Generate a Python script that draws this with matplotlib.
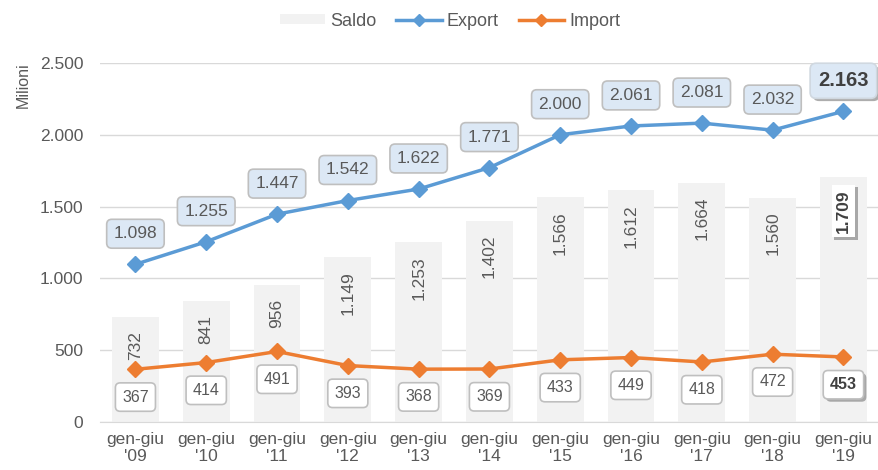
import matplotlib
matplotlib.use("Agg")
import matplotlib.pyplot as plt
import matplotlib.patheffects as pe
from matplotlib.lines import Line2D
from matplotlib.patches import Patch

categories = ["gen-giu\n'09", "gen-giu\n'10", "gen-giu\n'11", "gen-giu\n'12", "gen-giu\n'13",
              "gen-giu\n'14", "gen-giu\n'15", "gen-giu\n'16", "gen-giu\n'17", "gen-giu\n'18",
              "gen-giu\n'19"]
saldo = [732, 841, 956, 1149, 1253, 1402, 1566, 1612, 1664, 1560, 1709]
export = [1098, 1255, 1447, 1542, 1622, 1771, 2000, 2061, 2081, 2032, 2163]
imports = [367, 414, 491, 393, 368, 369, 433, 449, 418, 472, 453]
yticks = [0, 500, 1000, 1500, 2000, 2500]
ytick_labels = ["0", "500", "1.000", "1.500", "2.000", "2.500"]

def fmt(v):
    return f"{v:,}".replace(",", ".")

plt.rcParams['font.family'] = ['Liberation Sans', 'DejaVu Sans']
txt = '#595959'
blue = '#5b9bd5'
orange = '#ed7d31'
barc = '#f2f2f2'

fig = plt.figure(figsize=(8.79, 4.70), dpi=100)
ax = fig.add_axes([0.1138, 0.1021, 0.886, 0.764])
x = list(range(len(categories)))

ax.bar(x, saldo, width=0.66, color=barc, zorder=1)
ax.plot(x, export, color=blue, lw=2.5, marker='D', ms=8, zorder=3)
ax.plot(x, imports, color=orange, lw=2.5, marker='D', ms=8, zorder=3)

ax.set_xlim(-0.5, len(categories) - 0.5)
ax.set_ylim(0, 2500)
ax.set_yticks(yticks)
ax.set_yticklabels(ytick_labels)
ax.set_xticks(x)
ax.set_xticklabels(categories)
ax.tick_params(axis='both', length=0, colors=txt, labelsize=12.5)
ax.tick_params(axis='y', pad=12)
ax.tick_params(axis='x', pad=7)
ax.yaxis.grid(True, color='#d9d9d9', lw=1)
ax.set_axisbelow(True)
for s in ['top', 'right', 'left']:
    ax.spines[s].set_visible(False)
ax.spines['bottom'].set_color('#d9d9d9')

fig.text(0.027, 0.868, "Milioni", rotation=90, ha='center', va='top', color=txt, fontsize=11.5)

shadow = [pe.SimplePatchShadow(offset=(2, -2), shadow_rgbFace='#777777', alpha=0.6), pe.Normal()]
n = len(categories)
for i in range(n):
    last = (i == n - 1)
    # export
    t = ax.annotate(fmt(export[i]), (x[i], export[i]), xytext=(0, 22),
                    textcoords='offset points', ha='center', va='center',
                    fontsize=14.5 if last else 12.5, fontweight='bold' if last else 'normal',
                    color='#404040' if last else txt, zorder=5,
                    bbox=dict(boxstyle='round,pad=0.4,rounding_size=0.3', fc='#dce8f5',
                              ec='#bfbfbf' if not last else '#d0d8e0', lw=1.2))
    if last:
        t.get_bbox_patch().set_path_effects(shadow)
    # import
    t = ax.annotate(fmt(imports[i]), (x[i], imports[i]), xytext=(0, -20),
                    textcoords='offset points', ha='center', va='center',
                    fontsize=11.5, fontweight='bold' if last else 'normal',
                    color='#404040' if last else txt, zorder=5,
                    bbox=dict(boxstyle='round,pad=0.42,rounding_size=0.3', fc='white',
                              ec='#bfbfbf', lw=1.2))
    if last:
        t.get_bbox_patch().set_path_effects(shadow)
    # saldo
    if last:
        t = ax.annotate(fmt(saldo[i]), (x[i], saldo[i]), xytext=(0, -9),
                        textcoords='offset points', ha='center', va='top', rotation=90,
                        fontsize=12.5, fontweight='bold', color='#404040', zorder=4,
                        bbox=dict(boxstyle='square,pad=0.25', fc='white', ec='none'))
        t.get_bbox_patch().set_path_effects(shadow)
    else:
        ax.annotate(fmt(saldo[i]), (x[i], saldo[i]), xytext=(0, -10),
                    textcoords='offset points', ha='center', va='top', rotation=90,
                    fontsize=12.5, color=txt, zorder=4)

handles = [Patch(fc=barc, ec='none'),
           Line2D([], [], color=blue, lw=2.5, marker='D', ms=6),
           Line2D([], [], color=orange, lw=2.5, marker='D', ms=6)]
fig.legend(handles, ["Saldo", "Export", "Import"], loc='center', bbox_to_anchor=(0.512, 0.955),
           ncol=3, frameon=False, fontsize=13, labelcolor=txt, handlelength=2.5,
           handleheight=0.5, columnspacing=1.1, handletextpad=0.3)

fig.savefig("out.png", dpi=100)
